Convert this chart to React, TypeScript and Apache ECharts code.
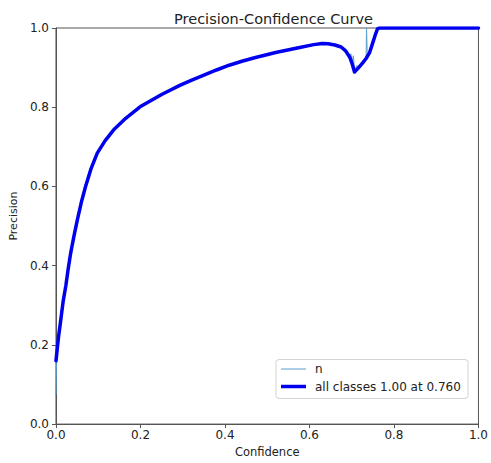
import React, { useEffect, useRef } from "react";
import * as echarts from "echarts";

const allConf = [0, 0.003, 0.006, 0.0117, 0.017, 0.0234, 0.029, 0.035, 0.043, 0.0508, 0.06, 0.07, 0.083, 0.0977, 0.116, 0.1366, 0.165, 0.199, 0.225, 0.25, 0.293, 0.32, 0.35, 0.38, 0.41, 0.44, 0.47, 0.52, 0.574, 0.61, 0.63, 0.644, 0.66, 0.675, 0.685, 0.695, 0.701, 0.7066, 0.712, 0.718, 0.726, 0.734, 0.742, 0.749, 0.755, 0.761, 0.765, 1.0];
const allPrec = [0.16, 0.19, 0.22, 0.266, 0.31, 0.35, 0.393, 0.433, 0.477, 0.517, 0.56, 0.6, 0.645, 0.684, 0.715, 0.743, 0.772, 0.801, 0.817, 0.832, 0.855, 0.868, 0.881, 0.894, 0.906, 0.916, 0.925, 0.938, 0.95, 0.958, 0.961, 0.96, 0.957, 0.952, 0.943, 0.927, 0.91, 0.889, 0.895, 0.902, 0.912, 0.923, 0.937, 0.96, 0.98, 0.998, 1.0, 1.0];

const nConf = [0, 0.001, 0.003, 0.006, 0.0117, 0.017, 0.0234, 0.029, 0.035, 0.043, 0.0508, 0.06, 0.07, 0.083, 0.0977, 0.116, 0.1366, 0.165, 0.199, 0.225, 0.25, 0.293, 0.32, 0.35, 0.38, 0.41, 0.44, 0.47, 0.52, 0.574, 0.61, 0.63, 0.644, 0.66, 0.675, 0.685, 0.69, 0.695, 0.698, 0.701, 0.704, 0.7066, 0.712, 0.718, 0.726, 0.734, 0.735, 0.737, 0.742, 0.749, 0.755, 0.761, 0.765, 1.0];
const nPrec = [0.074, 0.14, 0.19, 0.22, 0.266, 0.31, 0.35, 0.393, 0.433, 0.477, 0.517, 0.56, 0.6, 0.645, 0.684, 0.715, 0.743, 0.772, 0.801, 0.817, 0.832, 0.855, 0.868, 0.881, 0.894, 0.906, 0.916, 0.925, 0.938, 0.95, 0.958, 0.961, 0.96, 0.957, 0.952, 0.945, 0.93, 0.925, 0.935, 0.915, 0.93, 0.892, 0.905, 0.902, 0.915, 0.923, 1.0, 0.926, 0.937, 0.96, 0.98, 0.998, 1.0, 1.0];

const seriesNames = ["n", "all classes 1.00 at 0.760"];

const FONT = "DejaVu Sans";

export default function App() {
  const ref = useRef<HTMLDivElement>(null);
  useEffect(() => {
    if (!ref.current) return;
    const chart = echarts.init(ref.current, null, { renderer: "svg" });
    const axisCommon = {
      type: "value",
      min: 0,
      max: 1,
      interval: 0.2,
      splitLine: { show: false },
      axisLine: { show: true, lineStyle: { color: "#555", width: 1 } },
      axisTick: { show: true, length: 4, lineStyle: { color: "#555" } },
      axisLabel: {
        color: "#222",
        fontFamily: FONT,
        fontSize: 12,
        formatter: (v: number) => v.toFixed(1),
      },
      nameLocation: "middle",
      nameTextStyle: { color: "#222", fontFamily: FONT, fontSize: 11.5 },
    };
    const lx = 276, ly = 359.5;
    chart.setOption({
      animation: false,
      backgroundColor: "#fff",
      title: {
        text: "Precision-Confidence Curve",
        left: 268.5,
        textAlign: "center",
        top: 6,
        textStyle: { fontFamily: FONT, fontSize: 14.5, fontWeight: "normal", color: "#222" },
      },
      grid: {
        left: 55,
        right: 9,
        top: 28,
        bottom: 37,
        show: true,
        borderColor: "#555",
        borderWidth: 1,
        backgroundColor: "transparent",
      },
      xAxis: {
        ...axisCommon,
        name: "Confidence",
        nameGap: 20,
        axisLabel: { ...axisCommon.axisLabel, margin: 5 },
      },
      yAxis: {
        ...axisCommon,
        name: "Precision",
        nameGap: 31,
        nameTextStyle: { ...axisCommon.nameTextStyle, fontSize: 11, padding: [0, 0, 0, 20] },
        axisLabel: { ...axisCommon.axisLabel, margin: 7 },
      },
      series: [
        {
          name: seriesNames[0],
          type: "line",
          data: nConf.map((c, i) => [c, nPrec[i]]),
          showSymbol: false,
          lineStyle: { color: "#5aa0cc", width: 1 },
          z: 2,
        },
        {
          name: seriesNames[1],
          type: "line",
          data: allConf.map((c, i) => [c, allPrec[i]]),
          showSymbol: false,
          lineStyle: { color: "#0000ee", width: 3.5, join: "round", cap: "round" },
          z: 3,
        },
      ],
      graphic: [
        {
          type: "rect",
          shape: { x: lx, y: ly, width: 192, height: 39, r: 3 },
          style: { fill: "rgba(255,255,255,0.85)", stroke: "#d4d4d4", lineWidth: 1 },
          z: 10,
        },
        {
          type: "line",
          shape: { x1: lx + 5, y1: ly + 9.5, x2: lx + 30, y2: ly + 9.5 },
          style: { stroke: "#5aa0cc", lineWidth: 1 },
          z: 11,
        },
        {
          type: "line",
          shape: { x1: lx + 5, y1: ly + 27, x2: lx + 30, y2: ly + 27 },
          style: { stroke: "#0000ee", lineWidth: 3.5 },
          z: 11,
        },
        {
          type: "text",
          x: lx + 39,
          y: ly + 9,
          style: { text: seriesNames[0], font: `12px "${FONT}"`, fill: "#222", textVerticalAlign: "middle" },
          z: 11,
        },
        {
          type: "text",
          x: lx + 39,
          y: ly + 27,
          style: { text: seriesNames[1], font: `12px "${FONT}"`, fill: "#222", textVerticalAlign: "middle" },
          z: 11,
        },
      ],
    });
    return () => chart.dispose();
  }, []);
  return <div ref={ref} style={{ width: 491, height: 463, position: "absolute", left: 0, top: 0 }} />;
}
